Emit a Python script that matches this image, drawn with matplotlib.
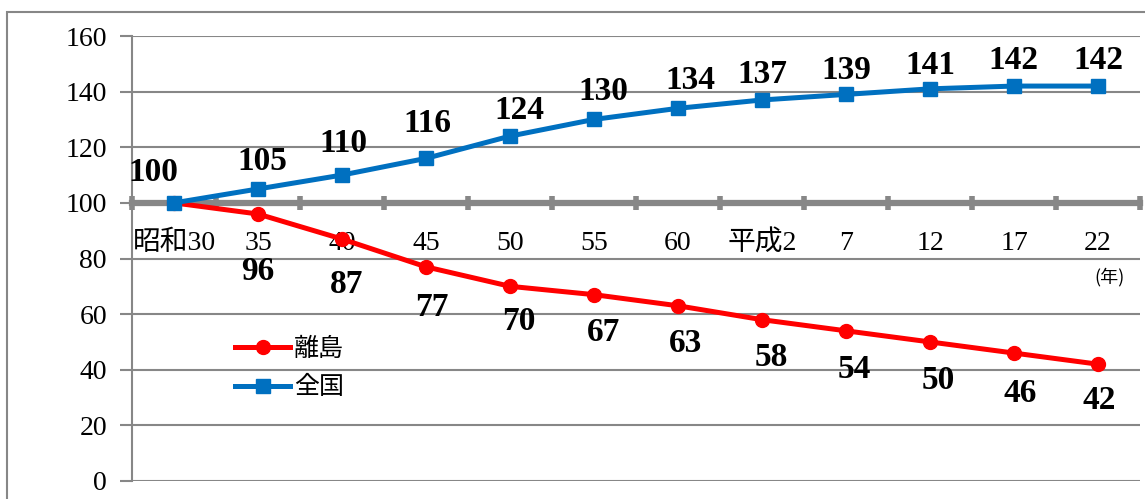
import matplotlib.pyplot as plt
from matplotlib.patches import Rectangle
from matplotlib.ticker import FixedLocator

# 人口指数（昭和30年 = 100）
years = ['昭和30', '35', '40', '45', '50', '55', '60', '平成2', '7', '12', '17', '22']
ritou = [100, 96, 87, 77, 70, 67, 63, 58, 54, 50, 46, 42]
zenkoku = [100, 105, 110, 116, 124, 130, 134, 137, 139, 141, 142, 142]

# label offsets (pixels) from each point
zenkoku_offsets = [(-21, 30), (4, 27), (1, 32), (1, 35), (9, 26), (9, 28),
                   (12, 28), (0, 25), (0, 24), (0, 23), (-1, 26), (0, 26)]
ritou_offsets = [None, (0, -58), (5, -45), (6, -41), (9, -35), (10, -38),
                 (8, -38), (9, -38), (8, -39), (8, -39), (6, -40), (1, -36)]

RED = '#FF0000'
BLUE = '#0070C0'
GRAY = '#878787'
num_font = ['Liberation Serif', 'Noto Sans CJK JP']
jp_font = ['Noto Sans CJK JP', 'DejaVu Sans']

fig = plt.figure(figsize=(11.45, 4.99), dpi=100)
ax = fig.add_axes([132 / 1145, 1 - 481 / 499, 1008 / 1145, 445 / 499])

x = list(range(len(years)))
ax.plot(x, ritou, color=RED, lw=3.6, marker='o', ms=10, label='離島', zorder=3)
ax.plot(x, zenkoku, color=BLUE, lw=3.6, marker='s', ms=10, label='全国', zorder=4)

for i, v in enumerate(zenkoku):
    dx, dy = zenkoku_offsets[i]
    ax.annotate(str(v), (i, v), xytext=(dx, dy), textcoords='offset pixels',
                ha='center', va='center', fontsize=24, fontweight='bold',
                family=num_font, zorder=5)
for i, v in enumerate(ritou):
    if ritou_offsets[i] is None:
        continue
    dx, dy = ritou_offsets[i]
    ax.annotate(str(v), (i, v), xytext=(dx, dy), textcoords='offset pixels',
                ha='center', va='center', fontsize=24, fontweight='bold',
                family=num_font, zorder=5)

ax.set_xlim(-0.5, len(years) - 0.5)
ax.set_ylim(0, 160)
ax.set_yticks(range(0, 161, 20))
ax.grid(axis='y', color=GRAY, lw=1.5)
ax.set_axisbelow(True)

# category axis crosses at 100
for side in ('top', 'right'):
    ax.spines[side].set_visible(False)
ax.spines['left'].set_color(GRAY)
ax.spines['left'].set_linewidth(1.5)
ax.spines['bottom'].set_position(('data', 100))
ax.spines['bottom'].set_color(GRAY)
ax.spines['bottom'].set_linewidth(4.5)
ax.spines['bottom'].set_zorder(2)

ax.xaxis.set_major_locator(FixedLocator([i - 0.5 for i in range(len(years) + 1)]))
ax.xaxis.set_minor_locator(FixedLocator(x))
ax.set_xticklabels([], minor=False)
ax.set_xticklabels(years, minor=True, family=num_font, fontsize=20)
ax.tick_params(axis='x', which='major', direction='inout', length=10, width=4, color=GRAY)
ax.tick_params(axis='x', which='minor', length=0, pad=20)
ax.tick_params(axis='y', length=9, width=1.5, color=GRAY, pad=9)
for lbl in ax.get_yticklabels():
    lbl.set_family(num_font)
    lbl.set_fontsize(20)

fig.text(1110 / 1145, 1 - 277 / 499, '(年)', ha='center', va='center',
         fontsize=13, family=jp_font)

ax.legend(loc='upper left', bbox_to_anchor=(235 / 1145, 1 - 336 / 499),
          bbox_transform=fig.transFigure, frameon=False, borderpad=0,
          borderaxespad=0, handlelength=2.2, handletextpad=0.15,
          labelspacing=0.5, prop={'family': jp_font, 'size': 18})

# chart border
fig.patches.append(Rectangle((7 / 1145, -0.5), 1.5, 0.5 + 1 - 12 / 499,
                             transform=fig.transFigure, fill=False,
                             edgecolor=GRAY, lw=1.5))

fig.savefig('out.png', dpi=100)
